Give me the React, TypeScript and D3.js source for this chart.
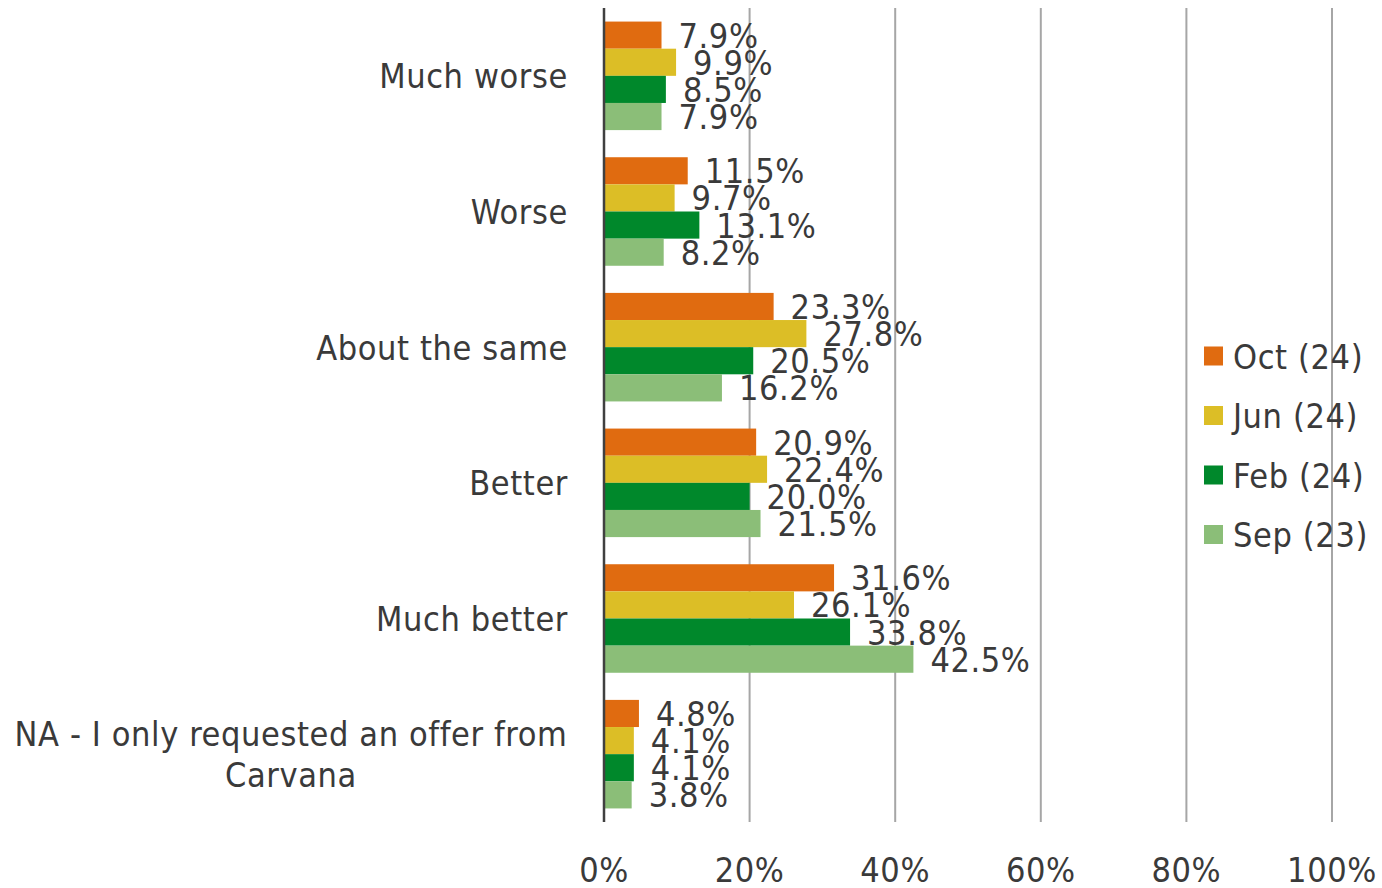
import React from "react";
import * as d3 from "d3";

const categories = [
  "Much worse",
  "Worse",
  "About the same",
  "Better",
  "Much better",
  "NA - I only requested an offer from|Carvana",
];
const seriesNames = ["Oct (24)", "Jun (24)", "Feb (24)", "Sep (23)"];
const seriesColors = ["#E06B10", "#DCBE26", "#00882B", "#8BBE78"];
const oct24 = [7.9, 11.5, 23.3, 20.9, 31.6, 4.8];
const jun24 = [9.9, 9.7, 27.8, 22.4, 26.1, 4.1];
const feb24 = [8.5, 13.1, 20.5, 20.0, 33.8, 4.1];
const sep23 = [7.9, 8.2, 16.2, 21.5, 42.5, 3.8];
const seriesValues = [oct24, jun24, feb24, sep23];
const xTicks = [0, 20, 40, 60, 80, 100];

const W = 1382;
const H = 888;
const FONT = "'DejaVu Sans Condensed', 'DejaVu Sans', sans-serif";
const TEXT = "#3A3A3A";

export default function App() {
  const x = d3.scaleLinear().domain([0, 100]).range([604, 1332]);
  const y0 = d3
    .scaleBand<number>()
    .domain(d3.range(categories.length))
    .range([8, 822])
    .paddingInner(0.2)
    .paddingOuter(0.1);
  const y1 = d3
    .scaleBand<number>()
    .domain(d3.range(seriesNames.length))
    .range([0, y0.bandwidth()]);

  const fs = 34;
  const capHalf = 12.5;
  const ls = 0.6;

  return (
    <svg
      width={W}
      height={H}
      style={{ position: "absolute", left: 0, top: 0, background: "#fff" }}
      fontFamily={FONT}
      fontStretch="condensed"
    >
      {xTicks.slice(1).map((t) => (
        <line
          key={"g" + t}
          x1={x(t)}
          x2={x(t)}
          y1={8}
          y2={822}
          stroke="#A6A6A6"
          strokeWidth={2}
        />
      ))}
      {categories.map((c, ci) =>
        seriesValues.map((vals, si) => {
          const v = vals[ci];
          const yy = (y0(ci) as number) + (y1(si) as number);
          return (
            <rect
              key={c + si}
              x={x(0)}
              y={yy}
              width={x(v) - x(0)}
              height={y1.bandwidth()}
              fill={seriesColors[si]}
            />
          );
        })
      )}
      <line x1={x(0)} x2={x(0)} y1={8} y2={822} stroke="#404040" strokeWidth={2.5} />
      {categories.map((c, ci) =>
        seriesValues.map((vals, si) => {
          const v = vals[ci];
          const yy = (y0(ci) as number) + (y1(si) as number) + y1.bandwidth() / 2;
          return (
            <text
              key={"l" + c + si}
              x={x(v) + 17}
              y={yy + capHalf}
              fontSize={fs}
              fill={TEXT}
              letterSpacing={ls}
            >
              {v.toFixed(1) + "%"}
            </text>
          );
        })
      )}
      {categories.map((c, ci) => {
        const lines = c.split("|");
        const cy = (y0(ci) as number) + y0.bandwidth() / 2;
        const lh = 41;
        if (lines.length === 1) {
          return (
            <text key={"c" + ci} x={568} y={cy + capHalf} fontSize={fs} fill={TEXT} textAnchor="end" letterSpacing={ls}>
              {c}
            </text>
          );
        }
        return (
          <text key={"c" + ci} x={291} fontSize={fs} fill={TEXT} textAnchor="middle" letterSpacing={ls}>
            {lines.map((ln, li) => (
              <tspan key={li} x={291} y={cy + capHalf + (li - (lines.length - 1) / 2) * lh}>
                {ln}
              </tspan>
            ))}
          </text>
        );
      })}
      {xTicks.map((t) => (
        <text key={"t" + t} x={x(t)} y={882} fontSize={fs} fill={TEXT} textAnchor="middle" letterSpacing={ls}>
          {t + "%"}
        </text>
      ))}
      {seriesNames.map((s, i) => {
        const cy = 356 + i * 59.5;
        return (
          <g key={"lg" + s}>
            <rect x={1204} y={cy - 9.5} width={19} height={19} fill={seriesColors[i]} />
            <text x={1233} y={cy + capHalf} fontSize={fs} fill={TEXT} letterSpacing={ls}>
              {s}
            </text>
          </g>
        );
      })}
    </svg>
  );
}
